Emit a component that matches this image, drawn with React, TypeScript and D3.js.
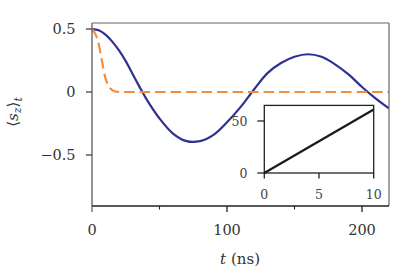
import React from 'react';
import * as d3 from 'd3';

// <s_z>_t
const tBlue = [0, 5, 10, 15, 20, 25, 30, 35, 40, 50, 60, 70, 80, 90, 100, 110, 120, 130, 140, 150, 160, 170, 180, 190, 200, 210, 220];
const szBlue = [0.5, 0.49, 0.455, 0.4, 0.33, 0.245, 0.145, 0.045, -0.05, -0.21, -0.33, -0.39, -0.39, -0.34, -0.24, -0.12, 0.02, 0.15, 0.23, 0.28, 0.3, 0.28, 0.22, 0.14, 0.04, -0.05, -0.13];

// fast decay (dashed)
const tOrange = [0, 2.5, 5, 7.5, 10, 12.5, 15, 17.5, 20, 25, 220];
const szOrange = [0.5, 0.46, 0.38, 0.24, 0.11, 0.045, 0.015, 0.004, 0, 0, 0];

// inset: straight line
const insetX = [0, 10];
const insetY = [0, 61];

const xTicksMajor = [0, 100, 200];
const xTicksMinor = [50, 150];
const yTicks = [0.5, 0, -0.5];
const insetXTicks = [0, 5, 10];
const insetYTicks = [0, 50];

const W = 412;
const H = 272;
const FONT = 'DejaVu Serif';

const fmt = (v: number) => (v < 0 ? '\u2212' + Math.abs(v) : String(v));

export default function App() {
  const x = d3.scaleLinear().domain([0, 220]).range([92, 389]);
  const y = d3.scaleLinear().domain([-0.905, 0.548]).range([206, 23]);

  const ix = d3.scaleLinear().domain([0, 10]).range([264.3, 373.7]);
  const iy = d3.scaleLinear().domain([0, 65]).range([173, 105.4]);

  const blueLine = d3
    .line<number>()
    .x((_, i) => x(tBlue[i]))
    .y(d => y(d))
    .curve(d3.curveCatmullRom.alpha(0.5));

  const orangeLine = d3
    .line<number>()
    .x((_, i) => x(tOrange[i]))
    .y(d => y(d))
    .curve(d3.curveMonotoneX);

  const insetLine = d3
    .line<number>()
    .x((_, i) => ix(insetX[i]))
    .y(d => iy(d));

  const [x0, x1] = x.range();
  const [y0, y1] = y.range();

  return (
    <svg width={W} height={H} style={{ position: 'absolute', left: 0, top: 0, background: '#fff' }}>
      <defs>
        <clipPath id="plot">
          <rect x={x0} y={y1 - 3} width={x1 - x0} height={y0 - y1 + 3} />
        </clipPath>
      </defs>

      {/* curves */}
      <g clipPath="url(#plot)">
        <path d={blueLine(szBlue) || ''} fill="none" stroke="#2e3192" strokeWidth={2.2} />
        <path d={orangeLine(szOrange) || ''} fill="none" stroke="#f68b3c" strokeWidth={2.2} strokeDasharray="10.5 5" />
      </g>

      {/* frame */}
      <line x1={x0} x2={x1} y1={y1} y2={y1} stroke="#666" strokeWidth={1.2} />
      <line x1={x1} x2={x1} y1={y1} y2={y0} stroke="#666" strokeWidth={1.2} />
      <line x1={x0} x2={x0} y1={y1} y2={y0} stroke="#666" strokeWidth={1.4} />
      <line x1={x0} x2={x1} y1={y0} y2={y0} stroke="#222" strokeWidth={1.3} />

      <g fontFamily={FONT}>
        {/* x ticks */}
        {xTicksMajor.map(t => (
          <g key={'xt' + t}>
            <line x1={x(t)} x2={x(t)} y1={y0} y2={y0 + 6} stroke={t === 0 ? '#666' : '#222'} strokeWidth={1.3} />
            <text x={x(t)} y={234.5} textAnchor="middle" fontSize={14.5} fill="#333">
              {fmt(t)}
            </text>
          </g>
        ))}
        {xTicksMinor.map(t => (
          <line key={'xm' + t} x1={x(t)} x2={x(t)} y1={y0} y2={y0 + 3.5} stroke="#222" strokeWidth={1.1} />
        ))}

        {/* y ticks */}
        {yTicks.map(t => (
          <g key={'yt' + t}>
            <line x1={x0 - 6} x2={x0} y1={y(t)} y2={y(t)} stroke="#444" strokeWidth={1.3} />
            <text x={75.5} y={y(t) + 5.3} textAnchor="end" fontSize={14.5} fill="#333">
              {fmt(t)}
            </text>
          </g>
        ))}

        {/* axis labels */}
        <text x={240} y={264} textAnchor="middle" fontSize={15} fill="#333">
          <tspan fontStyle="italic">t</tspan>
          <tspan dx={5}>(ns)</tspan>
        </text>
        <text transform="translate(18,112) rotate(-90)" textAnchor="middle" fontSize={15} fill="#333">
          <tspan>{'\u27E8'}</tspan>
          <tspan fontStyle="italic">s</tspan>
          <tspan fontStyle="italic" fontSize={11} dy={3}>z</tspan>
          <tspan dy={-3}>{'\u27E9'}</tspan>
          <tspan fontStyle="italic" fontSize={11} dy={4}>t</tspan>
        </text>
      </g>

      {/* inset */}
      <g fontFamily={FONT}>
        <rect
          x={ix(0)}
          y={iy(65)}
          width={ix(10) - ix(0)}
          height={iy(0) - iy(65)}
          fill="#fff"
          stroke="#222"
          strokeWidth={1.3}
        />
        <path d={insetLine(insetY) || ''} fill="none" stroke="#1a1a1a" strokeWidth={2.2} />
        {insetXTicks.map(t => (
          <g key={'ixt' + t}>
            <line x1={ix(t)} x2={ix(t)} y1={iy(0)} y2={iy(0) + 5.5} stroke="#222" strokeWidth={1.3} />
            <text x={ix(t)} y={199} textAnchor="middle" fontSize={12.5} fill="#444">
              {t}
            </text>
          </g>
        ))}
        {insetYTicks.map(t => (
          <g key={'iyt' + t}>
            <line x1={ix(0) - 7} x2={ix(0)} y1={iy(t)} y2={iy(t)} stroke="#222" strokeWidth={1.3} />
            <text x={247.5} y={iy(t) + 4.5} textAnchor="end" fontSize={12.5} fill="#444">
              {t}
            </text>
          </g>
        ))}
      </g>
    </svg>
  );
}
